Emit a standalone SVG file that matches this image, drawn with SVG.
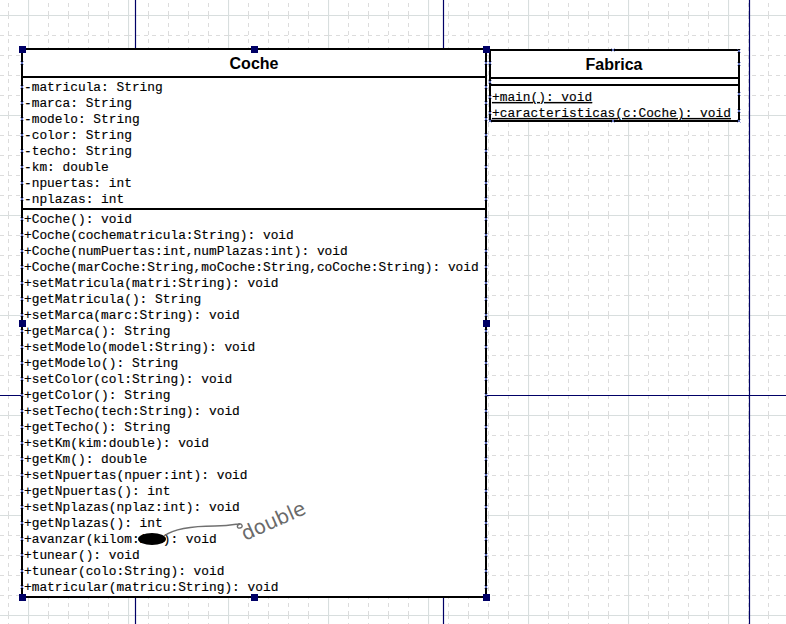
<svg xmlns="http://www.w3.org/2000/svg" width="786" height="624" viewBox="0 0 786 624">
<style>
.box{fill:#fff;stroke:#000;stroke-width:2}
.div{stroke:#000;stroke-width:2}
.title{font-family:"Liberation Sans","DejaVu Sans",sans-serif;font-weight:bold;font-size:16px;text-anchor:middle;fill:#000}
.mono{font-family:"Liberation Mono","Courier New",monospace;font-size:12.85px;fill:#000;stroke:#000;stroke-width:0.15}
.ul{text-decoration:underline}
.handle{fill:#000066}
.guide{stroke:#000066;stroke-width:1.2;fill:none}
.xm{stroke:#5a6ab8;stroke-width:1;fill:none}
</style>
<defs>
<pattern id="grid" x="28" y="15" width="100" height="100" patternUnits="userSpaceOnUse">
<g stroke="#dcdcdc" stroke-width="1" stroke-dasharray="4,4">
<path d="M20.5 0V100M40.5 0V100M60.5 0V100M80.5 0V100"/>
<path d="M0 20.5H100M0 40.5H100M0 60.5H100M0 80.5H100"/>
</g>
<path d="M0.5 0V100M0 0.5H100" stroke="#d8dede" stroke-width="1.2"/>
</pattern>
<path id="xm" class="xm" d="M-1.5 -1.5L1.5 1.5M1.5 -1.5L-1.5 1.5"/>
</defs>
<rect width="786" height="624" fill="#fff"/>
<rect width="786" height="624" fill="url(#grid)"/>
<g id="guides">
<path class="guide" d="M135.5 0V624M443.5 0V624M749.5 0V624M0 395.5H786"/>
</g>
<g id="Coche">
<rect class="box" x="22" y="49" width="464" height="548"/>
<path class="div" d="M22 77H486M22 209H486"/>
<text class="title" x="254" y="69">Coche</text>
<g class="mono">
<text x="24" y="91">-matricula: String</text>
<text x="24" y="107">-marca: String</text>
<text x="24" y="123">-modelo: String</text>
<text x="24" y="139">-color: String</text>
<text x="24" y="155">-techo: String</text>
<text x="24" y="171">-km: double</text>
<text x="24" y="187">-npuertas: int</text>
<text x="24" y="203">-nplazas: int</text>
<text x="24" y="223">+Coche(): void</text>
<text x="24" y="239">+Coche(cochematricula:String): void</text>
<text x="24" y="255">+Coche(numPuertas:int,numPlazas:int): void</text>
<text x="24" y="271">+Coche(marCoche:String,moCoche:String,coCoche:String): void</text>
<text x="24" y="287">+setMatricula(matri:String): void</text>
<text x="24" y="303">+getMatricula(): String</text>
<text x="24" y="319">+setMarca(marc:String): void</text>
<text x="24" y="335">+getMarca(): String</text>
<text x="24" y="351">+setModelo(model:String): void</text>
<text x="24" y="367">+getModelo(): String</text>
<text x="24" y="383">+setColor(col:String): void</text>
<text x="24" y="399">+getColor(): String</text>
<text x="24" y="415">+setTecho(tech:String): void</text>
<text x="24" y="431">+getTecho(): String</text>
<text x="24" y="447">+setKm(kim:double): void</text>
<text x="24" y="463">+getKm(): double</text>
<text x="24" y="479">+setNpuertas(npuer:int): void</text>
<text x="24" y="495">+getNpuertas(): int</text>
<text x="24" y="511">+setNplazas(nplaz:int): void</text>
<text x="24" y="527">+getNplazas(): int</text>
<text x="24" y="543">+avanzar(kilom:int): void</text>
<text x="24" y="559">+tunear(): void</text>
<text x="24" y="575">+tunear(colo:String): void</text>
<text x="24" y="591">+matricular(matricu:String): void</text>
</g>
<g id="coche-markers">
<use href="#xm" x="22" y="63"/><use href="#xm" x="22" y="87"/><use href="#xm" x="22" y="103"/><use href="#xm" x="22" y="119"/><use href="#xm" x="22" y="135"/><use href="#xm" x="22" y="151"/><use href="#xm" x="22" y="167"/><use href="#xm" x="22" y="183"/><use href="#xm" x="22" y="199"/>
<use href="#xm" x="22" y="219"/><use href="#xm" x="22" y="235"/><use href="#xm" x="22" y="251"/><use href="#xm" x="22" y="267"/><use href="#xm" x="22" y="283"/><use href="#xm" x="22" y="299"/><use href="#xm" x="22" y="315"/><use href="#xm" x="22" y="331"/><use href="#xm" x="22" y="347"/><use href="#xm" x="22" y="363"/><use href="#xm" x="22" y="379"/><use href="#xm" x="22" y="395"/><use href="#xm" x="22" y="411"/><use href="#xm" x="22" y="427"/><use href="#xm" x="22" y="443"/><use href="#xm" x="22" y="459"/><use href="#xm" x="22" y="475"/><use href="#xm" x="22" y="491"/><use href="#xm" x="22" y="507"/><use href="#xm" x="22" y="523"/><use href="#xm" x="22" y="539"/><use href="#xm" x="22" y="555"/><use href="#xm" x="22" y="571"/><use href="#xm" x="22" y="587"/>
<use href="#xm" x="486" y="63"/><use href="#xm" x="486" y="87"/><use href="#xm" x="486" y="103"/><use href="#xm" x="486" y="119"/><use href="#xm" x="486" y="135"/><use href="#xm" x="486" y="151"/><use href="#xm" x="486" y="167"/><use href="#xm" x="486" y="183"/><use href="#xm" x="486" y="199"/>
<use href="#xm" x="486" y="219"/><use href="#xm" x="486" y="235"/><use href="#xm" x="486" y="251"/><use href="#xm" x="486" y="267"/><use href="#xm" x="486" y="283"/><use href="#xm" x="486" y="299"/><use href="#xm" x="486" y="315"/><use href="#xm" x="486" y="331"/><use href="#xm" x="486" y="347"/><use href="#xm" x="486" y="363"/><use href="#xm" x="486" y="379"/><use href="#xm" x="486" y="395"/><use href="#xm" x="486" y="411"/><use href="#xm" x="486" y="427"/><use href="#xm" x="486" y="443"/><use href="#xm" x="486" y="459"/><use href="#xm" x="486" y="475"/><use href="#xm" x="486" y="491"/><use href="#xm" x="486" y="507"/><use href="#xm" x="486" y="523"/><use href="#xm" x="486" y="539"/><use href="#xm" x="486" y="555"/><use href="#xm" x="486" y="571"/><use href="#xm" x="486" y="587"/>
</g>
</g>
<g id="Fabrica">
<rect class="box" x="490" y="50" width="249" height="71"/>
<path class="div" d="M490 78H739M490 85H739"/>
<text class="title" x="614" y="70">Fabrica</text>
<g class="mono ul">
<text x="492" y="101">+main(): void</text>
<text x="492" y="117">+caracteristicas(c:Coche): void</text>
</g>
<g id="fabrica-markers">
<use href="#xm" x="490" y="63"/><use href="#xm" x="490" y="82"/><use href="#xm" x="490" y="97"/><use href="#xm" x="490" y="113"/><use href="#xm" x="490" y="121"/>
<use href="#xm" x="739" y="51"/><use href="#xm" x="739" y="64"/><use href="#xm" x="739" y="94"/><use href="#xm" x="739" y="111"/><use href="#xm" x="739" y="121"/>
<use href="#xm" x="613" y="50"/><use href="#xm" x="613" y="121"/>
</g>
</g>
<g id="handles">
<rect class="handle" x="19" y="46" width="7" height="7"/>
<rect class="handle" x="251" y="46" width="7" height="7"/>
<rect class="handle" x="483" y="46" width="7" height="7"/>
<rect class="handle" x="19" y="320" width="7" height="7"/>
<rect class="handle" x="483" y="320" width="7" height="7"/>
<rect class="handle" x="19" y="594" width="7" height="7"/>
<rect class="handle" x="251" y="594" width="7" height="7"/>
<rect class="handle" x="483" y="594" width="7" height="7"/>
</g>
<g id="annotation">
<ellipse cx="152" cy="539" rx="14" ry="6" fill="#000"/>
<path d="M164 536C175 528 195 526 215 526C225 526 232 525 238 524C242 523 244 527 240 528C237 529 236 525 240 524" fill="none" stroke="#707070" stroke-width="1.4"/>
<text x="245" y="541" transform="rotate(-24 245 541)" font-family="DejaVu Sans, sans-serif" font-size="20" fill="#6a6a6a">double</text>
</g>
</svg>
